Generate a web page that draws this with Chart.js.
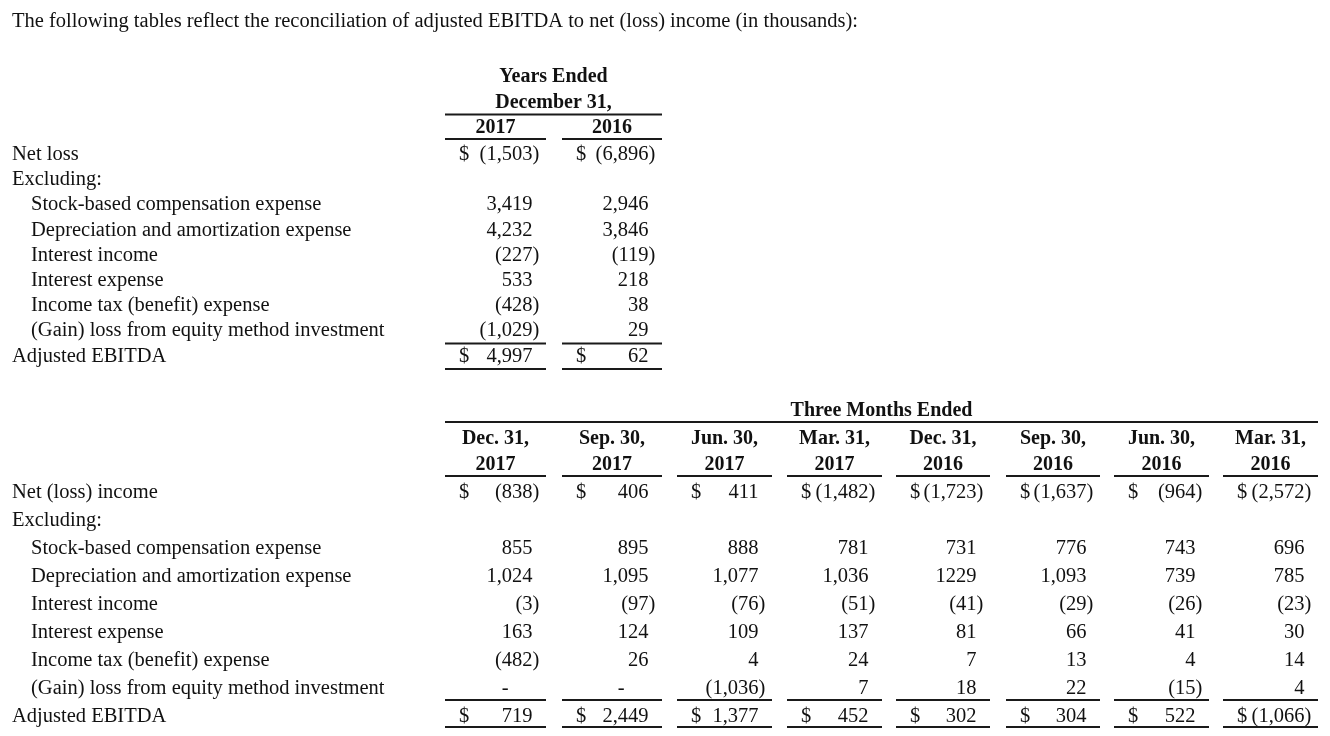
<!DOCTYPE html>
<html>
<head>
<meta charset="utf-8">
<script src="https://cdn.jsdelivr.net/npm/chart.js@4.4.1/dist/chart.umd.min.js"></script>
<style>
  html, body { margin: 0; padding: 0; background: #ffffff; }
  #wrap { width: 1330px; height: 736px; position: relative; }
</style>
</head>
<body>
<div id="wrap"><canvas id="c"></canvas></div>
<script>
// ---------- DATA ----------
const titleText = 'The following tables reflect the reconciliation of adjusted EBITDA to net (loss) income (in thousands):';

const annualHeader = ['Years Ended', 'December 31,'];
const annualYears = ['2017', '2016'];
const annualRowLabels = ['Net loss', 'Excluding:', 'Stock-based compensation expense', 'Depreciation and amortization expense',
  'Interest income', 'Interest expense', 'Income tax (benefit) expense', '(Gain) loss from equity method investment', 'Adjusted EBITDA'];
const annual2017 = [-1503, null, 3419, 4232, -227, 533, -428, -1029, 4997];
const annual2016 = [-6896, null, 2946, 3846, -119, 218, 38, 29, 62];

const quarterHeader = 'Three Months Ended';
const quarterMonths = ['Dec. 31,', 'Sep. 30,', 'Jun. 30,', 'Mar. 31,', 'Dec. 31,', 'Sep. 30,', 'Jun. 30,', 'Mar. 31,'];
const quarterYears = ['2017', '2017', '2017', '2017', '2016', '2016', '2016', '2016'];
const quarterRowLabels = ['Net (loss) income', 'Excluding:', 'Stock-based compensation expense', 'Depreciation and amortization expense',
  'Interest income', 'Interest expense', 'Income tax (benefit) expense', '(Gain) loss from equity method investment', 'Adjusted EBITDA'];
const qDec2017 = [-838, null, 855, 1024, -3, 163, -482, 0, 719];
const qSep2017 = [406, null, 895, 1095, -97, 124, 26, 0, 2449];
const qJun2017 = [411, null, 888, 1077, -76, 109, 4, -1036, 1377];
const qMar2017 = [-1482, null, 781, 1036, -51, 137, 24, 7, 452];
const qDec2016 = [-1723, null, 731, 1229, -41, 81, 7, 18, 302];
const qSep2016 = [-1637, null, 776, 1093, -29, 66, 13, 22, 304];
const qJun2016 = [-964, null, 743, 739, -26, 41, 4, -15, 522];
const qMar2016 = [-2572, null, 696, 785, -23, 30, 14, 4, -1066];
// the source prints this one cell without a thousands separator
const ungroupedCells = [[4, 3]]; // [quarter column, row]

// ---------- LAYOUT (styles / positions, not data) ----------
const L = {
  colLeft:  [445, 562, 677, 787, 896, 1006, 1114, 1223],
  colRight: [546, 662, 772, 882, 990, 1100, 1209, 1318],
  digitInset: 13.5, dollarInset: 14, dashInset: 24,
  labelX: 12, indentX: 31,
  titleY: 27,
  a: { h1: 82, h2: 108, line1: 114.5, yr: 133, line2: 139, row0: 160, rowStep: 25.2, sumTop: 343.5, sumBot: 369 },
  q: { h1: 416, line1: 422, h2: 443.5, yr: 470, line2: 476, row0: 498, rowStep: 28, sumTop: 700, sumBot: 727 },
  regular: '20.5px "Liberation Serif", "Times New Roman", serif',
  bold: 'bold 20px "Liberation Serif", "Times New Roman", serif',
  color: '#111111', lineColor: '#1a1a1a', lineWidth: 1.8
};

function fmt(v, grouped) {
  const a = Math.abs(v);
  const s = grouped ? a.toLocaleString('en-US') : String(a);
  return v < 0 ? '(' + s + ')' : s;
}

const tablePlugin = {
  id: 'tablePlugin',
  afterDraw(chart) {
    const ctx = chart.ctx;
    const xs = chart.scales.x, ys = chart.scales.y;
    const X = v => xs.getPixelForValue(v);
    const Y = v => ys.getPixelForValue(v);
    const pxToUnits = (xs.max - xs.min) / (X(xs.max) - X(xs.min));
    ctx.save();
    ctx.fillStyle = L.color;
    ctx.strokeStyle = L.lineColor;
    ctx.lineWidth = L.lineWidth;
    ctx.textBaseline = 'alphabetic';

    const text = (t, x, y, align, font) => {
      ctx.font = font || L.regular;
      ctx.textAlign = align || 'left';
      ctx.fillText(t, X(x), Y(y));
    };
    const hline = (x1, x2, y) => {
      ctx.beginPath();
      ctx.moveTo(X(x1), Y(y));
      ctx.lineTo(X(x2), Y(y));
      ctx.stroke();
    };
    ctx.font = L.regular;
    const parenW = ctx.measureText(')').width * pxToUnits;

    const cell = (col, v, rowY, dollar, grouped) => {
      const right = L.colRight[col] - L.digitInset;
      if (dollar) text('$', L.colLeft[col] + L.dollarInset, rowY, 'left');
      if (v === null || v === undefined) return;
      if (v === 0) { text('-', right - L.dashInset, rowY, 'right'); return; }
      text(fmt(v, grouped), v < 0 ? right + parenW : right, rowY, 'right');
    };

    // title
    text(titleText, L.labelX, L.titleY, 'left');

    // ---- annual table ----
    const A = L.a;
    const aCenter = (L.colLeft[0] + L.colRight[1]) / 2;
    text(annualHeader[0], aCenter, A.h1, 'center', L.bold);
    text(annualHeader[1], aCenter, A.h2, 'center', L.bold);
    hline(L.colLeft[0], L.colRight[1], A.line1);
    annualYears.forEach((yr, i) => {
      text(yr, (L.colLeft[i] + L.colRight[i]) / 2, A.yr, 'center', L.bold);
      hline(L.colLeft[i], L.colRight[i], A.line2);
      hline(L.colLeft[i], L.colRight[i], A.sumTop);
      hline(L.colLeft[i], L.colRight[i], A.sumBot);
    });
    annualRowLabels.forEach((lab, r) => {
      const y = A.row0 + r * A.rowStep;
      const indent = (r > 1 && r < annualRowLabels.length - 1);
      text(lab, indent ? L.indentX : L.labelX, y, 'left');
      const dollar = (r === 0 || r === annualRowLabels.length - 1);
      [annual2017, annual2016].forEach((arr, c) => cell(c, arr[r], y, dollar, true));
    });

    // ---- quarterly table ----
    const Q = L.q;
    const qCols = [qDec2017, qSep2017, qJun2017, qMar2017, qDec2016, qSep2016, qJun2016, qMar2016];
    const qCenter = (L.colLeft[0] + L.colRight[7]) / 2;
    text(quarterHeader, qCenter, Q.h1, 'center', L.bold);
    hline(L.colLeft[0], L.colRight[7], Q.line1);
    quarterMonths.forEach((m, i) => {
      const cx = (L.colLeft[i] + L.colRight[i]) / 2;
      text(m, cx, Q.h2, 'center', L.bold);
      text(quarterYears[i], cx, Q.yr, 'center', L.bold);
      hline(L.colLeft[i], L.colRight[i], Q.line2);
      hline(L.colLeft[i], L.colRight[i], Q.sumTop);
      hline(L.colLeft[i], L.colRight[i], Q.sumBot);
    });
    quarterRowLabels.forEach((lab, r) => {
      const y = Q.row0 + r * Q.rowStep;
      const indent = (r > 1 && r < quarterRowLabels.length - 1);
      text(lab, indent ? L.indentX : L.labelX, y, 'left');
      const dollar = (r === 0 || r === quarterRowLabels.length - 1);
      qCols.forEach((arr, c) => {
        const grouped = !ungroupedCells.some(p => p[0] === c && p[1] === r);
        cell(c, arr[r], y, dollar, grouped);
      });
    });
    ctx.restore();
  }
};

function build() {
  new Chart(document.getElementById('c'), {
    type: 'scatter',
    data: { datasets: [] },
    options: {
      responsive: true,
      maintainAspectRatio: false,
      animation: false,
      events: [],
      layout: { padding: 0 },
      plugins: { legend: { display: false }, title: { display: false }, tooltip: { enabled: false } },
      scales: {
        x: { type: 'linear', min: 0, max: 1330, display: false },
        y: { type: 'linear', min: 0, max: 736, reverse: true, display: false }
      }
    },
    plugins: [tablePlugin]
  });
}
if (document.fonts && document.fonts.load) {
  Promise.all([
    document.fonts.load(L.regular),
    document.fonts.load(L.bold)
  ]).then(build, build);
} else { build(); }
</script>
</body>
</html>
